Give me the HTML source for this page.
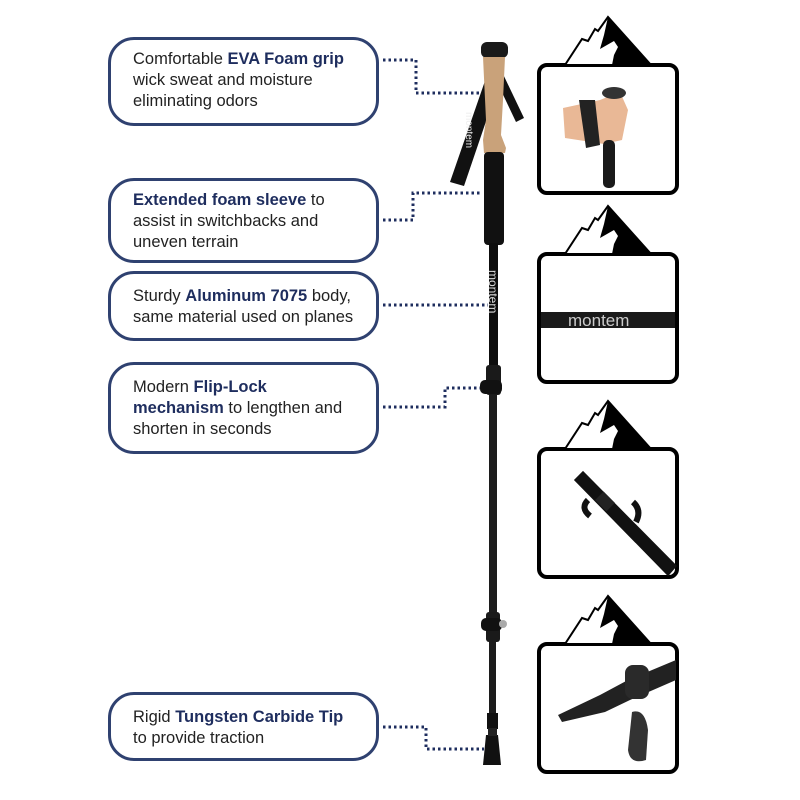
<!DOCTYPE html>
<html><head><meta charset="utf-8"><style>
body{margin:0;background:#fff;width:800px;height:800px;overflow:hidden;font-family:"Liberation Sans",sans-serif}
.b{position:absolute;left:108px;width:271px;border:3px solid #2f4170;border-radius:26px;box-sizing:border-box;padding:9px 0 0 22px;font-size:16.5px;line-height:21px;color:#222}
.b b{color:#1e2d5e}
</style></head><body>
<div class="b" style="top:37px;height:89px">Comfortable <b>EVA Foam grip</b><br>wick sweat and moisture<br>eliminating odors</div>
<div class="b" style="top:178px;height:85px"><b>Extended foam sleeve</b> to<br>assist in switchbacks and<br>uneven terrain</div>
<div class="b" style="top:271px;height:70px;padding-top:12px">Sturdy <b>Aluminum 7075</b> body,<br>same material used on planes</div>
<div class="b" style="top:362px;height:92px;padding-top:12px">Modern <b>Flip-Lock<br>mechanism</b> to lengthen and<br>shorten in seconds</div>
<div class="b" style="top:692px;height:69px;padding-top:12px">Rigid <b>Tungsten Carbide Tip</b><br>to provide traction</div>
<svg width="800" height="800" style="position:absolute;left:0;top:0">
<defs>
<g id="f">
<path d="M608,-48 L598,-34 L595,-36 L588,-24 L582,-26 L565,0 L651,0Z" fill="#fff" stroke="#000" stroke-width="2"/>
<path d="M608,-48 L651,0 L612,0 L614,-10 L618,-18 L614,-24 L600,-16 L604,-30Z" fill="#000"/>
</g>
</defs>
<g fill="none" stroke="#1e2d5e" stroke-width="3" stroke-dasharray="2.5 3">
<polyline points="383,60 416,60 416,93 482,93"/>
<polyline points="383,220 413,220 413,193 482,193"/>
<polyline points="383,305 488,305"/>
<polyline points="383,407 445,407 445,388 480,388"/>
<polyline points="383,727 426,727 426,749 484,749"/>
</g>
<!-- pole -->
<path d="M486,78 L450,182 L464,186 L496,92Z" fill="#111"/>
<path d="M502,72 L524,118 L516,122 L498,84Z" fill="#111"/>
<text x="0" y="0" transform="translate(466,112) rotate(90)" font-size="10" fill="#eee" font-family="Liberation Sans,sans-serif">montem</text>
<rect x="481" y="42" width="27" height="16" rx="6" fill="#1a1a1a"/>
<path d="M483,57 L505,57 L503,100 L501,135 L506,148 L505,153 L484,153 L483,140 L486,120Z" fill="#c9a27a"/>
<rect x="484" y="152" width="20" height="93" rx="4" fill="#111"/>
<rect x="489" y="243" width="9" height="127" fill="#0d0d0d"/>
<text transform="translate(489,270) rotate(90)" font-size="12" fill="#ddd" font-family="Liberation Sans,sans-serif">montem</text>
<rect x="486" y="365" width="15" height="30" rx="3" fill="#1a1a1a"/>
<rect x="480" y="380" width="22" height="14" rx="5" fill="#111"/>
<rect x="489" y="395" width="8" height="220" fill="#1c1c1c"/>
<rect x="486" y="612" width="14" height="30" rx="3" fill="#1a1a1a"/>
<rect x="481" y="618" width="21" height="13" rx="5" fill="#111"/>
<circle cx="503" cy="624" r="4" fill="#aaa"/>
<rect x="489" y="640" width="7" height="80" fill="#1c1c1c"/>
<rect x="487" y="713" width="11" height="16" fill="#111"/>
<path d="M486,735 L498,735 L501,765 L483,765Z" fill="#111"/>
<rect x="488" y="728" width="9" height="8" fill="#222"/>
<!-- frames -->
<g stroke="#000" stroke-width="4" fill="#fff">
<rect x="539" y="65" width="138" height="128" rx="8"/>
<rect x="539" y="254" width="138" height="128" rx="8"/>
<rect x="539" y="449" width="138" height="128" rx="8"/>
<rect x="539" y="644" width="138" height="128" rx="8"/>
</g>
<use href="#f" transform="translate(0,65)"/>
<use href="#f" transform="translate(0,254)"/>
<use href="#f" transform="translate(0,449)"/>
<use href="#f" transform="translate(0,644)"/>
<!-- frame1: hand -->
<path d="M563,108 L600,100 L620,92 L628,110 L622,140 L604,144 L565,138Z" fill="#e9b896"/>
<path d="M579,100 L595,100 L600,145 L586,148Z" fill="#222"/>
<ellipse cx="614" cy="93" rx="12" ry="6" fill="#333"/>
<rect x="603" y="140" width="12" height="48" rx="5" fill="#1a1a1a"/>
<!-- frame2 -->
<rect x="541" y="312" width="134" height="16" fill="#1a1a1a"/>
<text x="568" y="326" font-size="17" fill="#ccc" font-family="Liberation Sans,sans-serif">montem</text>
<!-- frame3 -->
<path d="M576,480 L583,473 L675,566 L668,574Z" fill="#111" stroke="#111" stroke-width="3"/>
<path d="M588,500 Q580,508 590,516" stroke="#111" stroke-width="6" fill="none"/>
<path d="M633,502 Q642,510 636,522" stroke="#111" stroke-width="6" fill="none"/>
<rect x="598" y="495" width="16" height="12" fill="#222" transform="rotate(45 605 500)"/>
<!-- frame4 -->
<path d="M558,715 L600,695 L628,680 L676,660 L676,680 L630,700 L605,712 L562,722Z" fill="#222"/>
<rect x="625" y="665" width="24" height="34" rx="8" fill="#2a2a2a"/>
<path d="M632,712 Q645,708 648,730 L646,760 Q630,765 628,750Z" fill="#333"/>
</svg>
</body></html>
